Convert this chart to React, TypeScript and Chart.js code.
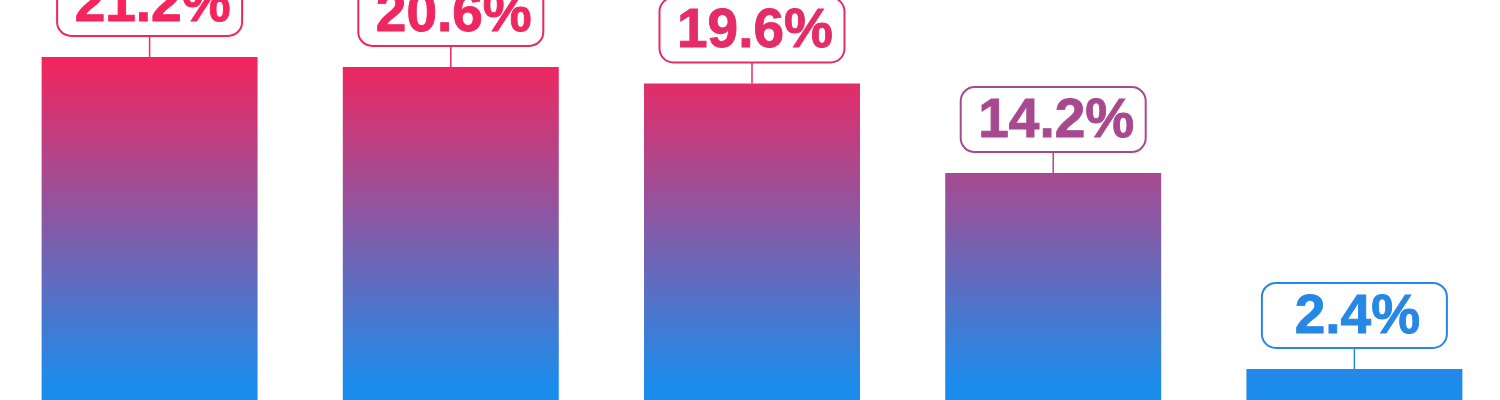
import React, { useEffect, useRef } from "react";
import { Chart, registerables } from "chart.js";

Chart.register(...registerables);

const categories: string[] = ["A", "B", "C", "D", "E"];
const shareValues: number[] = [21.2, 20.6, 19.6, 14.2, 2.4];
const valueLabels: string[] = ["21.2%", "20.6%", "19.6%", "14.2%", "2.4%"];

const TOP_RGB = [245, 36, 92];
const BOTTOM_RGB = [28, 140, 236];

function colorAt(t: number): string {
  const f = Math.max(0, Math.min(1, t));
  const c = TOP_RGB.map((a, i) => Math.round(a + (BOTTOM_RGB[i] - a) * f));
  return `rgb(${c[0]},${c[1]},${c[2]})`;
}

function gradientRange(chart: any) {
  const y = chart.scales.y;
  const top = y.getPixelForValue(Math.max(...shareValues));
  const bottom = y.getPixelForValue(1.5);
  return { top, bottom };
}

function roundRect(ctx: CanvasRenderingContext2D, x: number, y: number, w: number, h: number, r: number) {
  ctx.beginPath();
  ctx.moveTo(x + r, y);
  ctx.lineTo(x + w - r, y);
  ctx.arcTo(x + w, y, x + w, y + r, r);
  ctx.lineTo(x + w, y + h - r);
  ctx.arcTo(x + w, y + h, x + w - r, y + h, r);
  ctx.lineTo(x + r, y + h);
  ctx.arcTo(x, y + h, x, y + h - r, r);
  ctx.lineTo(x, y + r);
  ctx.arcTo(x, y, x + r, y, r);
  ctx.closePath();
}

const labelPlugin = {
  id: "valueBoxes",
  afterDatasetsDraw(chart: any) {
    const ctx: CanvasRenderingContext2D = chart.ctx;
    const meta = chart.getDatasetMeta(0);
    const { top, bottom } = gradientRange(chart);
    const boxW = 185;
    const boxH = 65;
    const gap = 21;
    ctx.save();
    meta.data.forEach((bar: any, i: number) => {
      const color = colorAt((bar.y - top) / (bottom - top));
      const cx = bar.x;
      const boxBottom = bar.y - gap;
      const boxTop = boxBottom - boxH;
      ctx.strokeStyle = color;
      ctx.lineWidth = 1.5;
      ctx.beginPath();
      ctx.moveTo(cx, boxBottom);
      ctx.lineTo(cx, bar.y);
      ctx.stroke();
      ctx.fillStyle = "#ffffff";
      roundRect(ctx, cx - boxW / 2, boxTop, boxW, boxH, 14);
      ctx.fill();
      ctx.lineWidth = 2;
      ctx.stroke();
      ctx.fillStyle = color;
      ctx.font = "bold 55px 'Liberation Sans', Arial, sans-serif";
      ctx.textAlign = "center";
      ctx.textBaseline = "alphabetic";
      ctx.fillText(valueLabels[i], cx + 3, boxBottom - 15);
      ctx.lineWidth = 0.9;
      ctx.strokeText(valueLabels[i], cx + 3, boxBottom - 15);
    });
    ctx.restore();
  },
};

export default function App() {
  const canvasRef = useRef<HTMLCanvasElement | null>(null);

  useEffect(() => {
    document.documentElement.style.overflow = "hidden";
    document.body.style.margin = "0";
    const canvas = canvasRef.current;
    if (!canvas) return;
    const chart = new Chart(canvas, {
      type: "bar",
      data: {
        labels: categories,
        datasets: [
          {
            data: shareValues,
            borderWidth: 0,
            categoryPercentage: 1,
            barPercentage: 0.717,
            backgroundColor: (c: any) => {
              const ch = c.chart;
              if (!ch.chartArea || !ch.scales.y) return colorAt(0.5);
              const { top, bottom } = gradientRange(ch);
              const g = ch.ctx.createLinearGradient(0, top, 0, bottom);
              g.addColorStop(0, colorAt(0));
              g.addColorStop(0.5, colorAt(0.5));
              g.addColorStop(1, colorAt(1));
              return g;
            },
          },
        ],
      },
      options: {
        responsive: false,
        animation: false,
        devicePixelRatio: 1,
        layout: { padding: 0 },
        plugins: {
          legend: { display: false },
          tooltip: { enabled: false },
        },
        scales: {
          x: { display: false },
          y: { display: false, min: 0.53, max: 24.63 },
        },
      },
      plugins: [labelPlugin],
    });
    return () => chart.destroy();
  }, []);

  return (
    <div style={{ position: "fixed", left: -1, top: 0, width: 1506, height: 400, background: "#fff" }}>
      <canvas ref={canvasRef} width={1506} height={400} style={{ display: "block", width: 1506, height: 400 }} />
    </div>
  );
}
